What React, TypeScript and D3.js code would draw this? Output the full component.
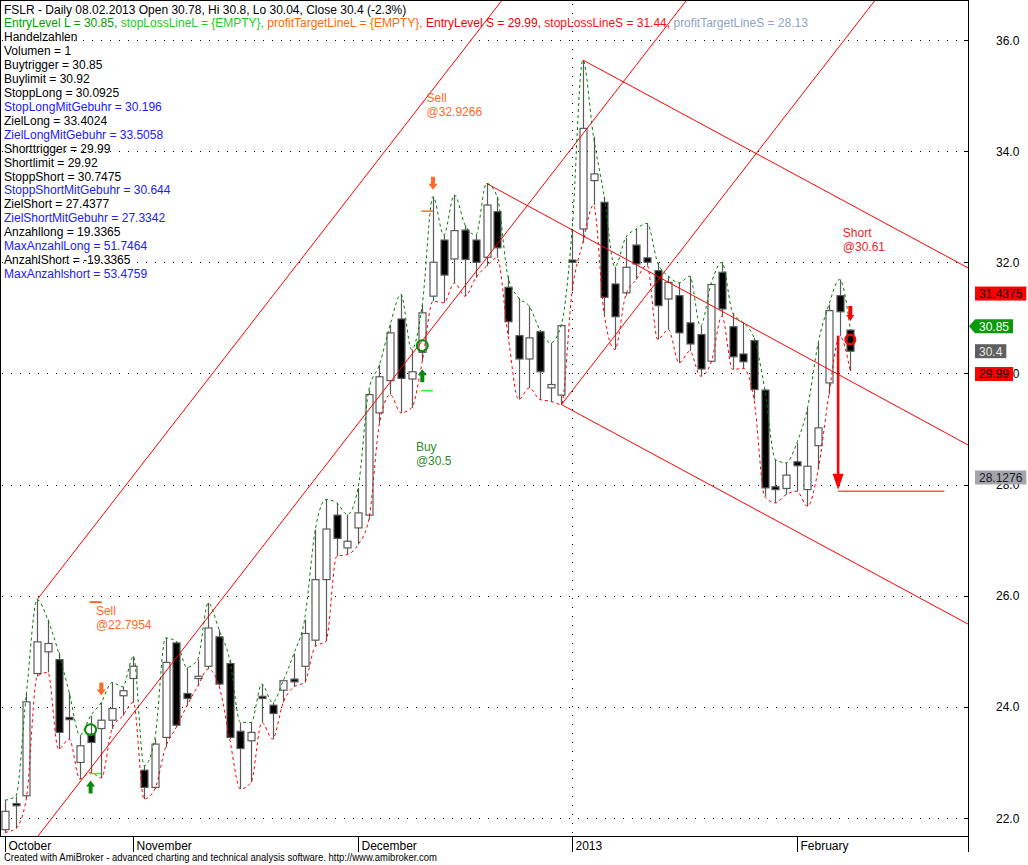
import * as d3 from 'd3';

// FSLR daily bars, 12.10.2012 .. 08.02.2013 (index = trading day)
const opens = [
  21.79, 22.26, 22.40, 24.60, 24.99, 24.85, 23.81, 23.00, 23.51, 23.61,
  23.76, 24.20, 24.51, 22.86, 22.55, 23.45, 25.15, 24.24, 24.51, 24.73,
  25.26, 24.78, 23.56, 23.39, 24.19, 24.03, 24.30, 24.50, 24.73, 25.20,
  26.29, 27.45, 26.86, 27.22, 27.45, 29.29, 29.87, 30.98, 29.90, 30.38,
  31.39, 32.40, 32.06, 32.58, 32.40, 32.09, 32.91, 31.55, 30.68, 30.26,
  30.75, 29.74, 29.61, 32.04, 32.60, 33.47, 33.08, 31.61, 31.45, 32.31,
  32.08, 31.85, 31.34, 31.40, 30.91, 30.70, 30.22, 31.82, 30.84, 30.35,
  30.59, 29.70, 27.96, 27.93, 28.41, 27.91, 28.70, 29.83, 31.40, 30.78,
];
const highs = [
  22.32, 22.39, 24.24, 25.93, 25.57, 24.98, 24.26, 23.49, 23.84, 24.08,
  24.44, 24.36, 24.91, 22.94, 23.42, 25.24, 25.18, 24.71, 24.85, 25.87,
  25.39, 24.85, 23.72, 23.72, 24.41, 24.08, 24.47, 24.96, 25.57, 27.19,
  27.73, 27.67, 27.46, 27.94, 29.70, 30.16, 30.88, 31.42, 30.43, 31.24,
  33.18, 32.49, 33.21, 32.67, 32.49, 33.42, 33.18, 31.75, 31.36, 31.21,
  30.78, 30.55, 30.88, 32.58, 35.64, 34.26, 33.18, 31.92, 32.44, 32.60,
  32.70, 31.99, 31.75, 31.63, 31.75, 30.85, 31.62, 32.00, 31.09, 30.91,
  30.64, 29.72, 28.45, 28.39, 28.75, 29.38, 30.55, 31.24, 31.69, 30.80,
];
const lows = [
  21.74, 21.81, 22.36, 24.55, 24.62, 23.24, 23.42, 22.70, 22.82, 22.72,
  23.60, 23.84, 24.08, 22.34, 22.52, 23.27, 23.63, 24.02, 24.37, 24.68,
  24.38, 23.42, 22.52, 22.64, 23.72, 23.42, 24.08, 24.36, 24.44, 25.09,
  25.18, 26.71, 26.74, 26.92, 27.37, 29.10, 29.62, 29.29, 29.38, 30.22,
  31.30, 31.27, 31.63, 31.39, 31.72, 31.93, 32.08, 30.70, 29.53, 29.74,
  29.53, 29.50, 29.44, 31.48, 32.35, 33.03, 31.06, 30.43, 31.40, 31.69,
  31.95, 30.61, 30.79, 30.19, 30.40, 29.95, 30.20, 31.03, 30.07, 30.09,
  29.53, 27.79, 27.67, 27.82, 27.88, 27.61, 28.27, 29.62, 30.67, 30.04,
];
const closes = [
  22.12, 22.22, 24.09, 25.17, 25.14, 23.54, 23.77, 23.30, 23.36, 23.76,
  23.97, 24.29, 24.73, 22.55, 23.33, 24.80, 23.67, 24.15, 24.55, 25.42,
  24.41, 23.45, 23.25, 23.54, 24.15, 23.88, 24.47, 24.45, 25.32, 26.29,
  27.20, 27.03, 26.98, 27.49, 29.62, 29.94, 30.73, 29.91, 30.03, 31.09,
  32.00, 31.77, 32.57, 32.05, 32.00, 33.03, 32.26, 30.93, 30.26, 30.64,
  30.03, 29.80, 30.86, 32.00, 34.41, 33.59, 31.37, 31.02, 31.91, 31.97,
  32.00, 31.22, 31.64, 30.73, 30.53, 30.08, 31.60, 31.16, 30.30, 30.21,
  29.71, 27.94, 27.91, 28.17, 28.34, 28.33, 29.02, 31.13, 31.11, 30.40,
];

const monthLabels = ['October', 'November', 'December', '2013', 'February'];
const monthStartBars = [0, 12, 33, 53, 74];
const yearStartBar = 53;
const priceTicks = [22, 24, 26, 28, 30, 32, 34, 36];

// trend channel lines: [barFrom, valueFrom, barTo, valueTo]
const upChannel = [
  [3, 25.93, 60, 40.08],
  [0, 20.91, 70, 38.28],
  [52, 29.44, 90, 38.87],
];
const downChannel = [
  [45, 33.42, 95, 28.19],
  [54, 35.64, 95, 31.38],
  [52, 29.44, 95, 24.97],
];

// trade signals
const buyBars = [8, 39];
const buyEntries = [23.59, 30.5];
const buyStops = [22.8, 29.69];
const buyTargets = [25.89, 32.92];
const sellBars = [9, 40];
const shortBars = [79];
const shortEntries = [30.61];
const shortMoveBar = 78;
const shortMoveFrom = 30.68;
const shortMoveTo = 27.89;

const signalTitles = ['Sell', 'Sell', 'Buy', 'Short'];
const signalPrices = ['@22.7954', '@32.9266', '@30.5', '@30.61'];
const signalBars = [8.5, 39.4, 38.4, 78.3];
const signalValues = [25.72, 34.96, 28.67, 32.53];
const signalKinds = ['sell', 'sell', 'buy', 'short'];

const headerText = 'FSLR - Daily 08.02.2013 Open 30.78, Hi 30.8, Lo 30.04, Close 30.4 (-2.3%)';
const levelNames = ['EntryLevel L', 'stopLossLineL', 'profitTargetLineL', 'EntryLevel S', 'stopLossLineS', 'profitTargetLineS'];
const levelValues = ['30.85', '{EMPTY}', '{EMPTY}', '29.99', '31.44', '28.13'];

const infoNames = [
  'Handelzahlen', 'Volumen', 'Buytrigger', 'Buylimit', 'StoppLong', 'StopLongMitGebuhr',
  'ZielLong', 'ZielLongMitGebuhr', 'Shorttrigger', 'Shortlimit', 'StoppShort',
  'StoppShortMitGebuhr', 'ZielShort', 'ZielShortMitGebuhr', 'Anzahllong', 'MaxAnzahlLong',
  'AnzahlShort', 'MaxAnzahlshort',
];
const infoValues = [
  null, 1, 30.85, 30.92, 30.0925, 30.196, 33.4024, 33.5058, 29.99, 29.92, 30.7475,
  30.644, 27.4377, 27.3342, 19.3365, 51.7464, -19.3365, 53.4759,
];

const axisMarkerValues = [31.4375, 30.85, 30.4, 29.99, 28.1276];

const levelColors = ['#00a000', '#22cc22', '#ff6a00', '#ee0000', '#ff1010', '#8fa3c8'];
const markerFills = ['#ff0000', '#0a9a0a', '#5f5f5f', '#ff0000', '#a4a4ac'];
const markerText = ['#000', '#fff', '#e8e8e8', '#000', '#1a1a1a'];

const W = 1028;
const H = 865;
const plotRight = 968;
const plotBottom = 836;
const FONT = '"Liberation Sans", Arial, sans-serif';
const SELL = '#ff6a2a';
const BUYG = '#0a8a0a';

const downArrow = (cx: number, tip: number, h = 13, w = 9) =>
  `M${cx - 2},${tip - h} h4 v${h - 6} h${w / 2 - 2} L${cx},${tip} L${cx - w / 2},${tip - 6} h${w / 2 - 2} Z`;
const upArrow = (cx: number, tip: number, h = 13, w = 9) =>
  `M${cx - 2},${tip + h} h4 v${-(h - 6)} h${w / 2 - 2} L${cx},${tip} L${cx - w / 2},${tip + 6} h${w / 2 - 2} Z`;

export default function App() {
  const x = d3.scaleLinear().domain([0, 79]).range([5, 850.3]);
  const y = d3.scaleLinear().domain([22, 36]).range([818, 40]);

  const line = d3
    .line<number>()
    .x((_, i) => x(i))
    .y(d => y(d))
    .curve(d3.curveMonotoneX);

  const bodyW = 7;

  return (
    <svg
      width={W}
      height={H}
      style={{ position: 'absolute', left: 0, top: 0, background: '#fff' }}
      fontFamily={FONT}
    >
      <defs>
        <clipPath id="plot">
          <rect x={0} y={0} width={plotRight} height={plotBottom} />
        </clipPath>
      </defs>
      <rect width={W} height={H} fill="#fff" />

      {/* grid */}
      {priceTicks.map(t => (
        <line key={t} x1={2} x2={plotRight} y1={Math.round(y(t)) + 0.5} y2={Math.round(y(t)) + 0.5}
          stroke="#000" strokeDasharray="1,8" />
      ))}
      <line x1={Math.round(x(yearStartBar)) + 0.5} x2={Math.round(x(yearStartBar)) + 0.5} y1={4} y2={plotBottom}
        stroke="#000" strokeDasharray="1,8" />

      <g clipPath="url(#plot)">
        {/* candles */}
        {opens.map((o, i) => {
          const c = closes[i];
          const cx = Math.round(x(i)) + 0.5;
          const top = y(Math.max(o, c));
          const bot = y(Math.min(o, c));
          const h = Math.max(bot - top, 2);
          return (
            <g key={i}>
              <line x1={cx} x2={cx} y1={y(highs[i])} y2={y(lows[i])} stroke="#5a5a5a" strokeWidth={1.2} />
              <rect x={cx - bodyW / 2} y={top} width={bodyW} height={h}
                fill={c >= o ? '#fff' : '#000'} stroke="#5a5a5a" strokeWidth={1.2} />
            </g>
          );
        })}

        {/* channels */}
        {[...upChannel, ...downChannel].map((d, k) => (
          <line key={k} x1={x(d[0])} y1={y(d[1])} x2={x(d[2])} y2={y(d[3])} stroke="#ff0000" strokeWidth={1} />
        ))}

        {/* high / low envelopes */}
        <path d={line(highs) || ''} fill="none" stroke="#008000" strokeWidth={1} strokeDasharray="3,3" />
        <path d={line(lows) || ''} fill="none" stroke="#ff0000" strokeWidth={1} strokeDasharray="3,3" />

        {/* buy stop / target ticks */}
        {buyBars.map((b, k) => (
          <g key={k}>
            <line x1={x(b) - 1} x2={x(b + 1)} y1={y(buyStops[k])} y2={y(buyStops[k])} stroke="#33ee33" strokeWidth={1.5} />
            <line x1={x(b) - 1} x2={x(b + 1)} y1={y(buyTargets[k])} y2={y(buyTargets[k])} stroke={SELL} strokeWidth={1.5} />
          </g>
        ))}

        {/* arrows */}
        {buyBars.map(b => (
          <path key={'b' + b} d={upArrow(x(b), y(lows[b]) + 8)} fill={BUYG} />
        ))}
        {sellBars.map(b => (
          <path key={'s' + b} d={downArrow(x(b), y(highs[b]) - 7)} fill={SELL} />
        ))}
        {shortBars.map(b => (
          <path key={'sh' + b} d={downArrow(x(b), y(highs[b]) - 8, 15, 8)} fill="#ff0000" />
        ))}

        {/* entry circles */}
        {buyBars.map((b, k) => (
          <circle key={'c' + b} cx={x(b)} cy={y(buyEntries[k])} r={5.5} fill="none" stroke={BUYG} strokeWidth={2} />
        ))}
        {shortBars.map((b, k) => (
          <circle key={'sc' + b} cx={x(b)} cy={y(shortEntries[k])} r={4.8} fill="none" stroke="#ff0000" strokeWidth={2.5} />
        ))}

        {/* short move arrow and target */}
        <line x1={x(shortMoveBar) - 1.5} x2={x(shortMoveBar) - 1.5} y1={y(shortMoveFrom)} y2={y(shortMoveTo) - 14}
          stroke="#ff0000" strokeWidth={2.5} />
        <path
          d={`M${x(shortMoveBar) - 7},${y(shortMoveTo) - 17} L${x(shortMoveBar) + 4},${y(shortMoveTo) - 17} L${x(shortMoveBar) - 1.5},${y(shortMoveTo) - 1} Z`}
          fill="#ff0000" />
        <line x1={x(shortMoveBar) - 1.5} x2={x(shortMoveBar + 9.8)} y1={y(shortMoveTo) + 0.5} y2={y(shortMoveTo) + 0.5}
          stroke="#ff0000" strokeWidth={1} />
      </g>

      {/* signal labels */}
      {signalTitles.map((t, k) => {
        const kind = signalKinds[k];
        const col = kind === 'sell' ? SELL : kind === 'buy' ? '#2e8b2e' : '#e82828';
        const sx = x(signalBars[k]);
        const sy = y(signalValues[k]) + 4;
        return (
          <text key={k} x={sx} y={sy} fontSize={12} fill={col}>
            <tspan x={sx} y={sy}>{t}</tspan>
            <tspan x={sx} y={sy + 14}>{signalPrices[k]}</tspan>
          </text>
        );
      })}
      <line x1={90} x2={102} y1={602.5} y2={602.5} stroke={SELL} strokeWidth={1.2} />

      {/* info block */}
      <g fontSize={12}>
        <text x={4} y={13.5} fill="#000">{headerText}</text>
        <text x={4} y={27.4}>
          {levelNames.map((n, k) => (
            <tspan key={k} fill={levelColors[k]}>
              {`${n} = ${levelValues[k]}${k < levelNames.length - 1 ? ', ' : ''}`}
            </tspan>
          ))}
        </text>
        {infoNames.map((n, k) => (
          <text key={n} x={4} y={41.3 + k * 13.92}
            fill={/MitGebuhr|^MaxAnzahl/.test(n) ? '#2020ff' : '#000'}>
            {infoValues[k] === null ? n : `${n} = ${infoValues[k]}`}
          </text>
        ))}
      </g>

      {/* frame and axes */}
      <line x1={0.5} x2={0.5} y1={0} y2={plotBottom} stroke="#000" />
      <line x1={0} x2={plotRight} y1={0.5} y2={0.5} stroke="#000" />
      <line x1={0} x2={plotRight} y1={plotBottom + 0.5} y2={plotBottom + 0.5} stroke="#000" />
      <line x1={plotRight + 0.5} x2={plotRight + 0.5} y1={0} y2={852} stroke="#000" />

      {priceTicks.map(t => (
        <g key={t}>
          <line x1={plotRight - 4} x2={plotRight} y1={Math.round(y(t)) + 0.5} y2={Math.round(y(t)) + 0.5} stroke="#000" />
          <text x={996} y={y(t) + 4.5} fontSize={12} fill="#000">{t.toFixed(1)}</text>
        </g>
      ))}

      {monthLabels.map((m, k) => {
        const mx = Math.round(x(monthStartBars[k])) + 0.5;
        return (
          <g key={m}>
            <line x1={mx} x2={mx} y1={plotBottom} y2={852} stroke="#000" />
            <text x={mx + 3} y={849.5} fontSize={12} fill="#000">{m}</text>
          </g>
        );
      })}

      {/* axis value markers */}
      {axisMarkerValues.map((v, k) => {
        const label = String(v);
        const digits = label.replace('.', '').length;
        const bw = digits * 6.67 + 3.3 + 8;
        const cy = y(v);
        const pointer = k === 1;
        return (
          <g key={k}>
            {pointer ? (
              <path d={`M${plotRight + 1},${cy} L${975},${cy - 7} H${975 + bw} V${cy + 7} H${975} Z`} fill={markerFills[k]} />
            ) : (
              <rect x={975} y={cy - 7} width={bw} height={14} fill={markerFills[k]} />
            )}
            <text x={979} y={cy + 4.5} fontSize={12} fill={markerText[k]}>{label}</text>
          </g>
        );
      })}

      <text x={4} y={861} fontSize={10} fill="#000" textLength={433} lengthAdjust="spacingAndGlyphs">
        Created with AmiBroker - advanced charting and technical analysis software. http://www.amibroker.com
      </text>
    </svg>
  );
}
